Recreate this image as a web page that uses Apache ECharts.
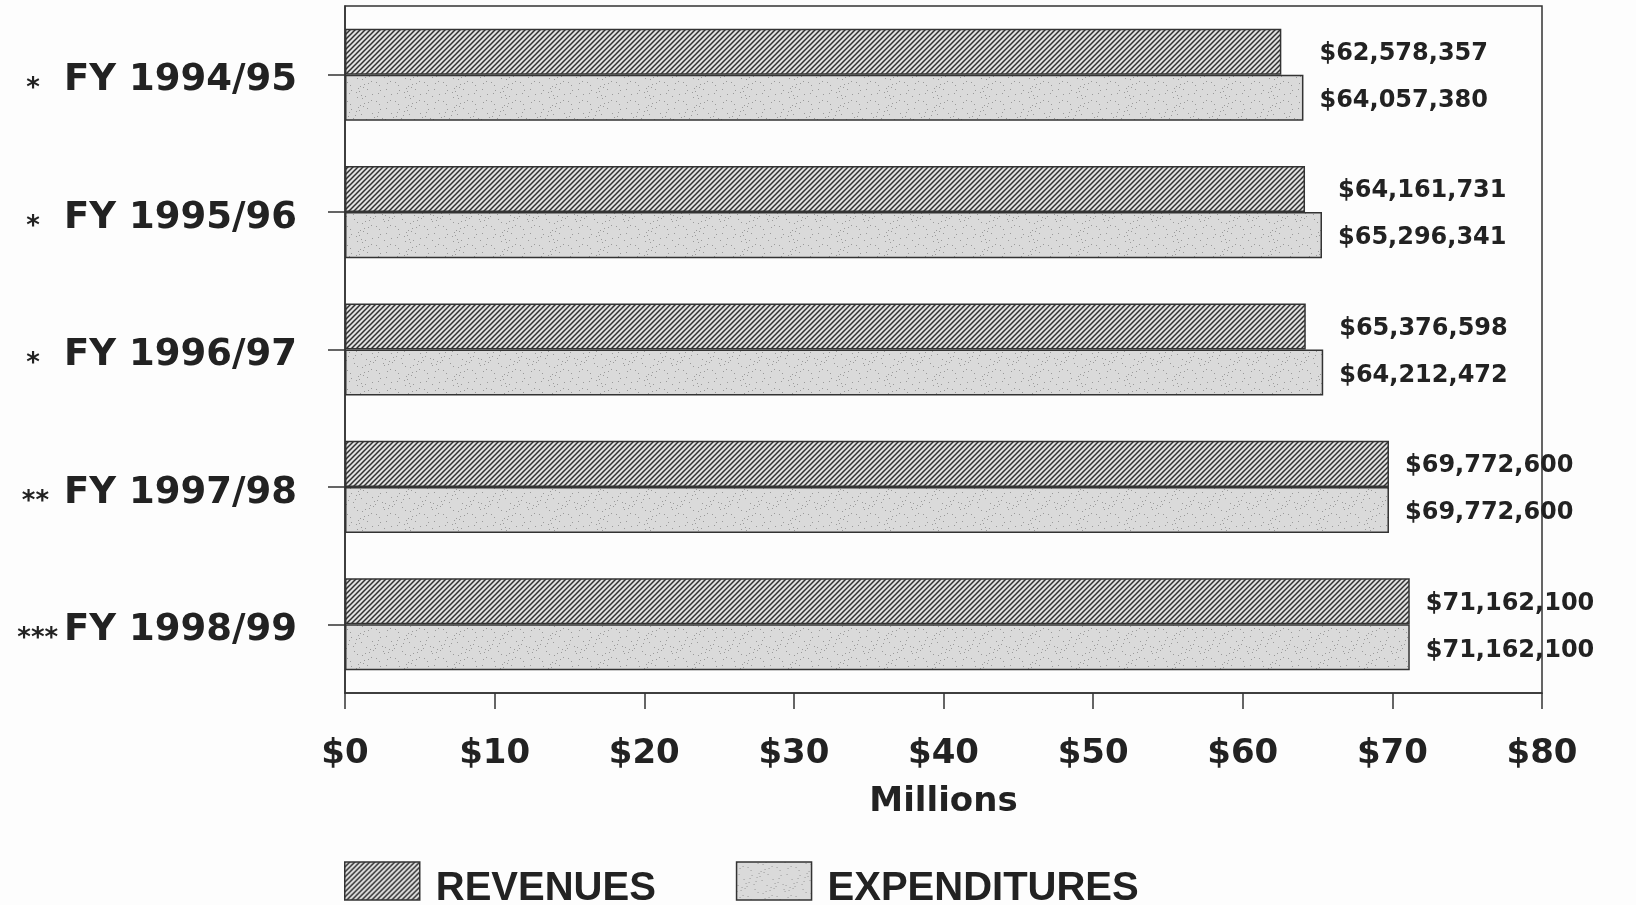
<!DOCTYPE html>
<html><head><meta charset="utf-8">
<script src="https://cdn.jsdelivr.net/npm/echarts@6/dist/echarts.min.js"></script>
<style>html,body{margin:0;padding:0;background:#fdfdfd;} #c{width:1636px;height:905px;}</style>
</head><body><div id="c"></div>
<script>
// ---- data ----
const categories = ['FY 1994/95', 'FY 1995/96', 'FY 1996/97', 'FY 1997/98', 'FY 1998/99'];
const markers = ['*  ', '*  ', '*  ', '** ', '***'];
const revenues = [62.578, 64.162, 64.212, 69.773, 71.162];       // $ millions (bar lengths)
const expenditures = [64.057, 65.296, 65.377, 69.773, 71.162];   // $ millions (bar lengths)
const revenueLabels = ['$62,578,357', '$64,161,731', '$65,376,598', '$69,772,600', '$71,162,100'];
const expenditureLabels = ['$64,057,380', '$65,296,341', '$64,212,472', '$69,772,600', '$71,162,100'];
const xMin = 0, xMax = 80, xStep = 10;
const seriesNames = ['REVENUES', 'EXPENDITURES'];
const axisName = 'Millions';

// ---- layout ----
const GRID = {left: 345, right: 94, top: 6, bottom: 212};
const pxPerUnit = (1636 - GRID.left - GRID.right) / (xMax - xMin);

// ---- patterns ----
function hatchPattern() {
  const s = 5;
  const c = document.createElement('canvas');
  c.width = s; c.height = s;
  const g = c.getContext('2d');
  g.fillStyle = '#e0e0e0'; g.fillRect(0, 0, s, s);
  g.strokeStyle = '#303030'; g.lineWidth = 1.5;
  g.beginPath();
  g.moveTo(-1, s + 1); g.lineTo(s + 1, -1);
  g.moveTo(-1, 1); g.lineTo(1, -1);
  g.moveTo(s - 1, s + 1); g.lineTo(s + 1, s - 1);
  g.stroke();
  return c;
}
function stipplePattern() {
  const s = 48;
  const c = document.createElement('canvas');
  c.width = s; c.height = s;
  const g = c.getContext('2d');
  g.fillStyle = '#dadada'; g.fillRect(0, 0, s, s);
  g.fillStyle = '#9a9a9a';
  for (let i = 0; i < s; i++) {
    for (let j = 0; j < s; j++) {
      if ((i * 37 + j * 91 + i * j * 7) % 29 === 0) g.fillRect(i, j, 1, 1);
    }
  }
  return c;
}
const hatch = {image: hatchPattern(), repeat: 'repeat'};
const stipple = {image: stipplePattern(), repeat: 'repeat'};

const groupMax = revenues.map((r, i) => Math.max(r, expenditures[i]));
function items(values, labels, dy) {
  return values.map((v, i) => ({
    value: v,
    label: {offset: [(groupMax[i] - v) * pxPerUnit, dy], formatter: labels[i]}
  }));
}

const labelFont = {fontFamily: 'DejaVu Sans', fontWeight: 'bold', color: '#222'};
const lineStyle = {color: '#333', width: 1.5};

const chart = echarts.init(document.getElementById('c'), null, {renderer: 'canvas'});
chart.setOption({
  backgroundColor: '#fdfdfd',
  animation: false,
  grid: Object.assign({show: true, borderColor: '#333', borderWidth: 1.5, backgroundColor: 'transparent', containLabel: false}, GRID),
  legend: {
    left: 344, top: 853, padding: 0,
    icon: 'rect',
    itemWidth: 75, itemHeight: 38, itemGap: 80,
    data: seriesNames,
    itemStyle: {borderColor: '#333', borderWidth: 1.5},
    formatter: name => '{n|' + name + '}',
    textStyle: {
      fontFamily: 'Liberation Sans', fontWeight: 'bold', color: '#222', fontSize: 40,
      rich: {n: {fontFamily: 'Liberation Sans', fontWeight: 'bold', color: '#222', fontSize: 40, lineHeight: 38, padding: [16, 0, 0, 11]}}
    }
  },
  xAxis: {
    type: 'value', min: xMin, max: xMax, interval: xStep,
    name: axisName, nameLocation: 'middle', nameGap: 92,
    nameTextStyle: Object.assign({}, labelFont, {fontSize: 34}),
    axisLine: {show: true, lineStyle: lineStyle},
    axisTick: {show: true, length: 16, lineStyle: lineStyle},
    splitLine: {show: false},
    axisLabel: Object.assign({}, labelFont, {fontSize: 34, margin: 44, formatter: v => '$' + v})
  },
  yAxis: {
    type: 'category', data: categories, inverse: true,
    axisLine: {show: true, lineStyle: lineStyle},
    axisTick: {show: true, alignWithLabel: true, length: 17, lineStyle: lineStyle},
    axisLabel: {
      margin: 48,
      padding: [12, 0, 0, 0],
      formatter: (v, i) => '{s|' + markers[i].replace(/ /g, '\u00a0') + '}{t|' + v + '}',
      rich: {
        s: Object.assign({}, labelFont, {fontSize: 26, lineHeight: 24, verticalAlign: 'bottom', padding: [0, 6, 0, 0]}),
        t: Object.assign({}, labelFont, {fontSize: 37, lineHeight: 44})
      }
    }
  },
  series: [
    {
      name: seriesNames[0], type: 'bar', data: items(revenues, revenueLabels, 2),
      barGap: '0%', barCategoryGap: '33%',
      itemStyle: {color: hatch, borderColor: '#333', borderWidth: 1.5},
      label: Object.assign({show: true, position: 'right', distance: 16, fontSize: 24}, labelFont)
    },
    {
      name: seriesNames[1], type: 'bar', data: items(expenditures, expenditureLabels, 3),
      barGap: '0%', barCategoryGap: '33%',
      itemStyle: {color: stipple, borderColor: '#333', borderWidth: 1.5},
      label: Object.assign({show: true, position: 'right', distance: 16, fontSize: 24}, labelFont)
    }
  ]
});
</script></body></html>
